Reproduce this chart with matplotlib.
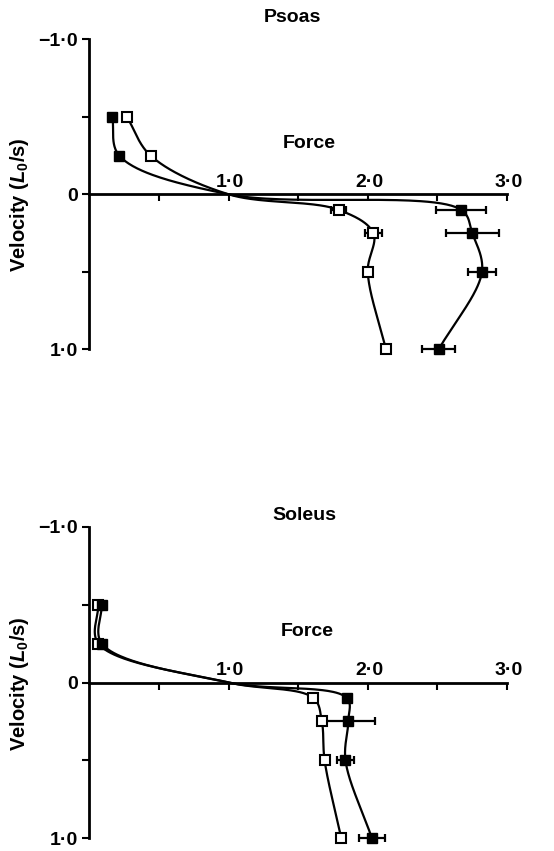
import numpy as np
import matplotlib
matplotlib.use('Agg')
import matplotlib.pyplot as plt

plt.rcParams['font.family'] = ['Liberation Sans', 'DejaVu Sans']
plt.rcParams['font.weight'] = 'bold'
plt.rcParams['mathtext.fontset'] = 'custom'
plt.rcParams['mathtext.rm'] = 'Liberation Sans:bold'
plt.rcParams['mathtext.it'] = 'Liberation Sans:italic:bold'
plt.rcParams['mathtext.bf'] = 'Liberation Sans:bold'

# ---------------- data ----------------
velocity = [-0.5, -0.25, 0.1, 0.25, 0.5, 1.0]          # L0/s (negative = lengthening)
isometric_force = 1.0
isometric_velocity = 0.0

psoas_filled_force = [0.165, 0.215, 2.67, 2.75, 2.82, 2.51]
psoas_filled_err = [0.0, 0.0, 0.18, 0.19, 0.10, 0.12]
psoas_open_force = [0.27, 0.44, 1.79, 2.04, 2.00, 2.13]
psoas_open_err = [0.0, 0.0, 0.055, 0.06, 0.03, 0.0]

soleus_filled_force = [0.09, 0.09, 1.85, 1.86, 1.84, 2.03]
soleus_filled_err = [0.0, 0.0, 0.0, 0.19, 0.06, 0.095]
soleus_open_force = [0.065, 0.065, 1.61, 1.67, 1.69, 1.81]
soleus_open_err = [0.0, 0.0, 0.0, 0.0, 0.0, 0.0]

x_ticks_major = [1.0, 2.0, 3.0]
x_tick_labels = ['1·0', '2·0', '3·0']
x_ticks_minor = [0.5, 1.5, 2.5]
y_ticks = [-1.0, -0.5, 0.0, 0.5, 1.0]
y_tick_labels = ['\u22121·0', '', '0', '', '1·0']


def catmull_rom(xs, ys, n=60, alpha=0.5):
    P = np.column_stack([xs, ys]).astype(float)
    P = np.vstack([2 * P[0] - P[1], P, 2 * P[-1] - P[-2]])
    out = []
    for i in range(1, len(P) - 2):
        p0, p1, p2, p3 = P[i - 1], P[i], P[i + 1], P[i + 2]
        t0 = 0.0
        t1 = t0 + np.linalg.norm(p1 - p0) ** alpha
        t2 = t1 + np.linalg.norm(p2 - p1) ** alpha
        t3 = t2 + np.linalg.norm(p3 - p2) ** alpha
        t = np.linspace(t1, t2, n)[:, None]
        A1 = (t1 - t) / (t1 - t0) * p0 + (t - t0) / (t1 - t0) * p1
        A2 = (t2 - t) / (t2 - t1) * p1 + (t - t1) / (t2 - t1) * p2
        A3 = (t3 - t) / (t3 - t2) * p2 + (t - t2) / (t3 - t2) * p3
        B1 = (t2 - t) / (t2 - t0) * A1 + (t - t0) / (t2 - t0) * A2
        B2 = (t3 - t) / (t3 - t1) * A2 + (t - t1) / (t3 - t1) * A3
        C = (t2 - t) / (t2 - t1) * B1 + (t - t1) / (t2 - t1) * B2
        out.append(C)
    return np.vstack(out)


SX, SY = 139.3, 155.0  # approx. px per unit, for isotropic smoothing


def smooth_curve(force, vel):
    f = list(force[:2]) + [isometric_force] + list(force[2:])
    v = list(vel[:2]) + [isometric_velocity] + list(vel[2:])
    c = catmull_rom(np.array(f) * SX, np.array(v) * SY)
    return c[:, 0] / SX, c[:, 1] / SY


W, H = 554, 851
fig = plt.figure(figsize=(W / 100, H / 100), dpi=100)

x0_px, x3_px = 89.3, 507.0
left = x0_px / W
width = (x3_px - x0_px) / W
panels = [
    dict(name='Psoas', top=39.3, bot=349.3, filled=(psoas_filled_force, psoas_filled_err),
         open=(psoas_open_force, psoas_open_err), title_xy=(292, 17.5),
         force_xy=(1.577, -0.33), ylab_y=205),
    dict(name='Soleus', top=526.7, bot=838.3, filled=(soleus_filled_force, soleus_filled_err),
         open=(soleus_open_force, soleus_open_err), title_xy=(304, 516),
         force_xy=(1.563, -0.327), ylab_y=684),
]

FS = 14

for p in panels:
    ax = fig.add_axes([left, 1 - p['bot'] / H, width, (p['bot'] - p['top']) / H])
    ax.set_xlim(0, 3.0)
    ax.set_ylim(1.0, -1.0)
    ax.patch.set_alpha(0)
    for s in ['top', 'right']:
        ax.spines[s].set_visible(False)
    ax.spines['bottom'].set_position(('data', 0))
    ax.spines['left'].set_linewidth(2.0)
    ax.spines['bottom'].set_linewidth(2.0)

    ax.set_xticks(x_ticks_major)
    ax.set_xticks(x_ticks_minor, minor=True)
    ax.set_xticklabels([])
    ax.tick_params(axis='x', which='both', direction='out', length=5, width=1.5)
    ax.set_yticks(y_ticks)
    ax.set_yticklabels(y_tick_labels)
    ax.tick_params(axis='y', direction='out', length=5, width=1.5, pad=3, labelsize=FS)
    for lab in ax.get_yticklabels():
        lab.set_fontweight('bold')

    for xv, lab in zip(x_ticks_major, x_tick_labels):
        ax.annotate(lab, xy=(xv, 0), xytext=(1, 5.5), textcoords='offset points',
                    ha='center', va='baseline', fontsize=FS, fontweight='bold')

    ff, fe = p['filled']
    of, oe = p['open']
    for force in (ff, of):
        cx, cy = smooth_curve(force, velocity)
        ax.plot(cx, cy, color='black', lw=1.6, zorder=3, clip_on=False)

    ax.errorbar(ff, velocity, xerr=fe, fmt='none', ecolor='black', elinewidth=1.6,
                capsize=3, capthick=1.6, zorder=4, clip_on=False)
    ax.errorbar(of, velocity, xerr=oe, fmt='none', ecolor='black', elinewidth=1.6,
                capsize=3, capthick=1.6, zorder=4, clip_on=False)
    ax.plot(of, velocity, ls='none', marker='s', ms=7, mfc='white', mec='black',
            mew=1.5, zorder=5, clip_on=False)
    ax.plot(ff, velocity, ls='none', marker='s', ms=7, mfc='black', mec='black',
            mew=1.0, zorder=6, clip_on=False)

    ax.text(p['force_xy'][0], p['force_xy'][1], 'Force', ha='center', va='center',
            fontsize=FS, fontweight='bold')
    fig.text(p['title_xy'][0] / W, 1 - p['title_xy'][1] / H, p['name'], ha='center',
             va='center', fontsize=FS, fontweight='bold')
    fig.text(19.5 / W, 1 - p['ylab_y'] / H, r'Velocity ($L_{0}$/s)', rotation=90,
             ha='center', va='center', fontsize=14.5, fontweight='bold')

fig.savefig('out.png', dpi=100)
